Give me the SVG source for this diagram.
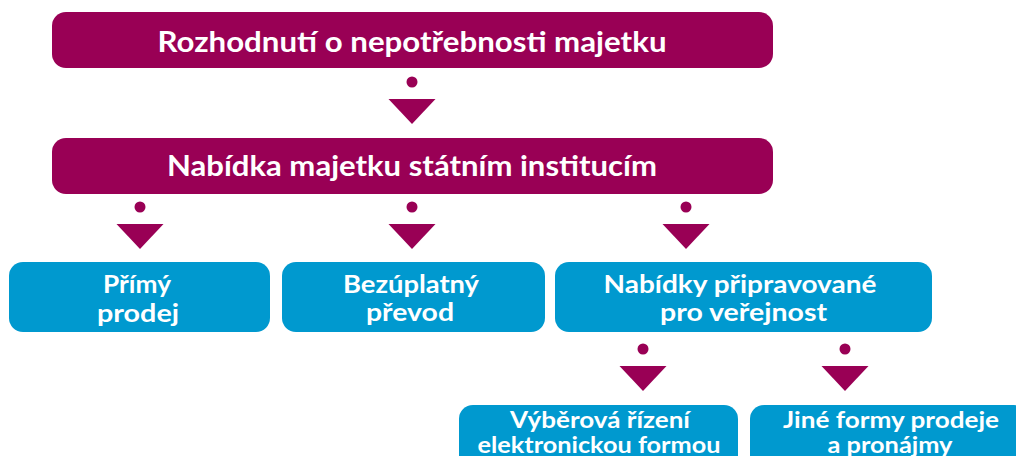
<svg xmlns="http://www.w3.org/2000/svg" width="1016" height="456" viewBox="0 0 1016 456">
<style>
.mag{fill:#990055}
.blu{fill:#0099cf}
text{font-family:Lato,"Open Sans","DejaVu Sans",sans-serif;font-weight:700;fill:#ffffff;text-anchor:middle}
.t1{font-size:28px}
.t2{font-size:25.5px}
.t3{font-size:22px}
</style>
<defs>
<g id="conn">
<circle cx="0" cy="0" r="5.5" class="mag"/>
<polygon points="-23.5,17 23.5,17 0,42" class="mag"/>
</g>
</defs>
<g id="connectors">
<use href="#conn" x="412" y="82"/>
<use href="#conn" x="140" y="207"/>
<use href="#conn" x="412" y="207"/>
<use href="#conn" x="686" y="207"/>
<use href="#conn" x="643" y="349"/>
<use href="#conn" x="845" y="349"/>
</g>
<g id="n1">
<rect x="52" y="12" width="721" height="56" rx="14" class="mag"/>
<text class="t1" x="412" y="52" textLength="509" lengthAdjust="spacingAndGlyphs">Rozhodnutí o nepotřebnosti majetku</text>
</g>
<g id="n2">
<rect x="52" y="138" width="721" height="56" rx="14" class="mag"/>
<text class="t1" x="412" y="176" textLength="490" lengthAdjust="spacingAndGlyphs">Nabídka majetku státním institucím</text>
</g>
<g id="n3">
<rect x="9" y="262" width="261" height="70" rx="14" class="blu"/>
<text class="t2" x="137" y="293" textLength="68" lengthAdjust="spacingAndGlyphs">Přímý</text>
<text class="t2" x="138" y="322" textLength="82" lengthAdjust="spacingAndGlyphs">prodej</text>
</g>
<g id="n4">
<rect x="282" y="262" width="263" height="70" rx="14" class="blu"/>
<text class="t2" x="411" y="293" textLength="136" lengthAdjust="spacingAndGlyphs">Bezúplatný</text>
<text class="t2" x="410" y="321" textLength="88" lengthAdjust="spacingAndGlyphs">převod</text>
</g>
<g id="n5">
<rect x="555" y="262" width="377" height="70" rx="14" class="blu"/>
<text class="t2" x="740" y="293" textLength="273" lengthAdjust="spacingAndGlyphs">Nabídky připravované</text>
<text class="t2" x="743.5" y="321" textLength="167" lengthAdjust="spacingAndGlyphs">pro veřejnost</text>
</g>
<g id="n6">
<rect x="459" y="405" width="279" height="70" rx="14" class="blu"/>
<text class="t3" x="600" y="428" textLength="180" lengthAdjust="spacingAndGlyphs">Výběrová řízení</text>
<text class="t3" x="599" y="453" textLength="243" lengthAdjust="spacingAndGlyphs">elektronickou formou</text>
</g>
<g id="n7">
<rect x="750" y="405" width="278" height="70" rx="14" class="blu"/>
<text class="t3" x="891" y="428" textLength="216" lengthAdjust="spacingAndGlyphs">Jiné formy prodeje</text>
<text class="t3" x="890" y="453" textLength="125" lengthAdjust="spacingAndGlyphs">a pronájmy</text>
</g>
</svg>
